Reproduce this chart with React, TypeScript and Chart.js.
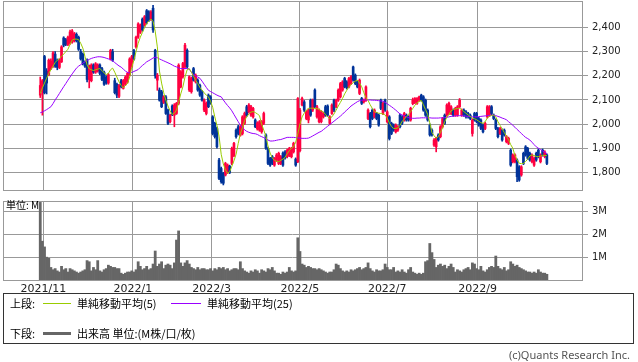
import React, { useEffect, useRef } from 'react';
import { Chart, registerables } from 'chart.js';

Chart.register(...registerables);

// ---------- data ----------
const openPrices = [
  2120,2135,2280,2220,2205,2230,2240,2290,2265,2235,
  2258,2357,2350,2330,2335,2340,2345,2372,2360,2300,
  2290,2255,2265,2185,2180,2245,2215,2220,2245,2230,
  2215,2195,2170,2270,2300,2180,2165,2115,2180,2148,
  2165,2175,2205,2240,2305,2320,2360,2380,2435,2410,
  2470,2465,2435,2480,2306,2182,2141,2134,2090,2113,
  2058,2010,2075,2037,2044,2086,2154,2196,2237,2306,
  2141,2134,2230,2175,2182,2161,2134,2058,2044,2120,
  2113,2030,2003,1982,1851,1816,1796,1789,1800,1825,
  1837,1870,1975,1989,1954,1961,2003,2072,2051,2037,
  2030,2017,1980,1975,1968,2003,1955,1899,1858,1865,
  1830,1851,1837,1837,1880,1885,1865,1870,1865,1885,
  1855,1844,1890,2079,2092,2023,2017,2099,2058,2141,
  2030,2010,2010,2030,2072,2075,2003,2044,2099,2072,
  2099,2113,2141,2189,2175,2154,2168,2237,2203,2175,
  2127,2106,2092,2099,2023,2044,2058,2030,2044,2037,
  2099,2044,2099,2010,2030,2003,1996,1968,1975,2037,
  2030,2017,2037,2030,2017,2085,2090,2086,2099,2120,
  2113,2099,2058,1996,1975,1913,1906,1955,1948,1989,
  2037,2037,2044,2044,2058,2037,2037,2072,2037,2058,
  2051,2044,2037,1961,2044,2044,2023,2017,1996,1982,
  2030,2037,2072,2037,2017,1982,1961,1975,1975,1927,
  1920,1892,1844,1844,1851,1823,1789,1879,1906,1899,
  1879,1844,1830,1879,1892,1844,1892,1865,1872,
];
const highPrices = [
  2195,2185,2285,2230,2270,2270,2300,2300,2270,2270,
  2325,2362,2355,2365,2390,2392,2380,2378,2365,2310,
  2295,2262,2270,2245,2250,2250,2255,2250,2250,2235,
  2220,2200,2210,2310,2310,2190,2170,2165,2185,2185,
  2200,2215,2275,2285,2310,2365,2420,2415,2440,2450,
  2475,2470,2470,2492,2310,2210,2150,2140,2118,2118,
  2062,2042,2080,2085,2090,2250,2222,2256,2335,2312,
  2200,2195,2235,2208,2188,2166,2140,2105,2092,2125,
  2118,2035,2008,1988,1858,1822,1800,1842,1835,1830,
  1905,1925,1980,1995,1995,2035,2050,2078,2085,2078,
  2070,2022,2010,2015,2015,2050,1960,1905,1862,1870,
  1862,1878,1884,1870,1885,1890,1897,1904,1904,1925,
  1860,2110,2065,2112,2098,2056,2063,2104,2104,2146,
  2078,2063,2056,2050,2078,2080,2035,2084,2104,2104,
  2146,2173,2180,2194,2180,2194,2201,2240,2208,2180,
  2187,2111,2104,2159,2063,2049,2063,2063,2049,2042,
  2104,2091,2104,2056,2035,2008,2001,2001,1994,2042,
  2035,2049,2042,2035,2070,2108,2110,2110,2116,2124,
  2118,2104,2063,2001,1980,1940,1946,1960,1994,2028,
  2042,2084,2091,2077,2063,2070,2077,2106,2063,2063,
  2056,2049,2042,2022,2049,2049,2028,2022,2001,2008,
  2077,2077,2077,2042,2022,1987,1987,1980,1980,1953,
  1946,1897,1877,1877,1856,1828,1828,1884,1911,1904,
  1884,1877,1863,1884,1897,1877,1897,1890,1877,
];
const lowPrices = [
  2110,2037,2125,2125,2200,2225,2235,2235,2225,2230,
  2255,2320,2325,2325,2330,2335,2340,2340,2305,2265,
  2245,2235,2175,2150,2175,2210,2210,2215,2205,2180,
  2160,2165,2165,2265,2260,2125,2110,2110,2150,2145,
  2160,2170,2200,2235,2265,2315,2355,2375,2385,2405,
  2415,2425,2430,2380,2190,2140,2095,2068,2085,2040,
  1998,2005,2035,1989,2040,2080,2150,2190,2230,2232,
  2135,2128,2178,2170,2136,2115,2095,2052,2038,2068,
  2082,1955,1942,1900,1770,1755,1748,1785,1795,1795,
  1832,1865,1942,1955,1950,1955,1998,2032,2045,2032,
  2025,1985,1975,1970,1962,1998,1895,1832,1825,1832,
  1825,1845,1832,1832,1825,1855,1860,1865,1860,1880,
  1825,1840,1885,2075,2052,2018,2005,2032,2052,2068,
  2025,2005,2005,2025,2032,2032,1998,2040,2052,2068,
  2094,2108,2136,2150,2145,2150,2163,2178,2163,2150,
  2122,2081,2087,2094,2018,1984,2018,2025,2018,1991,
  2060,2039,2053,2005,1934,1956,1970,1963,1970,1984,
  1998,2012,2012,2012,2012,2080,2085,2082,2094,2095,
  2053,2032,2012,1950,1950,1908,1885,1929,1943,1984,
  1998,2032,2039,2039,2032,2032,2032,2067,2032,2032,
  2025,2025,2018,1950,2012,2005,1991,1977,1963,1977,
  2025,2032,2039,2018,1977,1943,1956,1929,1950,1922,
  1915,1825,1839,1839,1761,1763,1784,1832,1867,1853,
  1846,1839,1825,1846,1860,1839,1867,1860,1832,
];
const closePrices = [
  2160,2180,2130,2170,2265,2262,2295,2240,2235,2262,
  2320,2327,2330,2360,2382,2386,2375,2345,2310,2270,
  2250,2240,2185,2240,2245,2215,2250,2245,2210,2185,
  2165,2170,2205,2305,2265,2130,2120,2160,2155,2180,
  2195,2210,2270,2280,2270,2360,2415,2410,2390,2445,
  2420,2430,2465,2390,2200,2203,2099,2072,2113,2044,
  2003,2037,2040,2079,2086,2244,2217,2251,2327,2237,
  2196,2189,2182,2203,2141,2120,2099,2099,2086,2072,
  2086,1961,1948,1906,1775,1761,1755,1837,1830,1800,
  1899,1920,1948,1961,1989,2030,2044,2037,2079,2072,
  2065,1989,2005,2010,2010,2044,1900,1837,1830,1837,
  1858,1872,1879,1865,1830,1860,1892,1899,1899,1920,
  1830,2106,2058,2106,2058,2051,2058,2037,2099,2072,
  2072,2058,2051,2044,2037,2037,2030,2079,2058,2099,
  2141,2168,2175,2154,2150,2189,2196,2182,2168,2154,
  2182,2086,2099,2154,2058,1989,2023,2058,2023,1996,
  2065,2086,2058,2051,1940,1961,1975,1996,1989,1989,
  2003,2044,2017,2017,2065,2100,2106,2106,2113,2099,
  2058,2037,2017,1955,1955,1934,1941,1934,1989,2023,
  2003,2079,2086,2072,2037,2065,2072,2099,2058,2037,
  2030,2030,2023,2017,2017,2010,1996,1982,1968,2003,
  2072,2072,2044,2023,1982,1948,1982,1934,1955,1948,
  1941,1830,1872,1872,1782,1768,1823,1837,1872,1858,
  1851,1872,1858,1851,1865,1872,1872,1885,1837,
];
const ma5 = [
  2127,2150,2170,2190,2210,2225,2240,2255,2265,2272,
  2280,2290,2300,2310,2330,2348,2352,2352,2350,2335,
  2315,2280,2245,2230,2225,2222,2225,2228,2230,2222,
  2212,2205,2210,2225,2232,2215,2195,2175,2160,2150,
  2160,2168,2195,2235,2265,2300,2335,2360,2380,2400,
  2416,2428,2435,2425,2385,2320,2220,2170,2130,2099,
  2075,2055,2040,2045,2058,2090,2125,2154,2195,2225,
  2230,2215,2198,2182,2168,2152,2141,2130,2120,2113,
  2095,2070,2030,1995,1950,1875,1835,1810,1796,1803,
  1825,1848,1875,1920,1960,1985,2015,2030,2042,2050,
  2052,2048,2042,2035,2000,1975,1950,1908,1880,1860,
  1850,1846,1844,1850,1855,1862,1877,1890,1900,1906,
  1925,1960,2000,2030,2045,2058,2065,2066,2066,2065,
  2065,2060,2055,2050,2040,2030,2023,2030,2042,2058,
  2075,2090,2106,2125,2140,2155,2163,2172,2178,2182,
  2170,2155,2130,2110,2098,2080,2065,2051,2048,2045,
  2044,2042,2038,2025,2005,1990,1982,1982,1984,1995,
  2012,2020,2032,2040,2052,2065,2078,2088,2095,2098,
  2080,2060,2040,2005,1965,1952,1941,1948,1966,1985,
  2010,2028,2040,2055,2060,2063,2065,2066,2060,2052,
  2045,2038,2032,2025,2022,2018,2012,2006,2003,2010,
  2025,2032,2036,2037,2030,2010,1995,1980,1965,1950,
  1935,1915,1900,1870,1852,1838,1836,1837,1845,1855,
  1868,1872,1870,1866,1865,1867,1871,1870,1869,
];
const ma25 = [
  2047,2050,2055,2060,2066,2072,2085,2100,2113,2127,
  2141,2155,2168,2182,2195,2208,2220,2232,2240,2246,
  2252,2258,2264,2268,2272,2275,2277,2279,2279,2278,
  2276,2273,2270,2268,2262,2255,2248,2241,2236,2228,
  2220,2214,2212,2214,2218,2222,2226,2235,2243,2250,
  2258,2263,2268,2274,2277,2275,2270,2266,2262,2258,
  2254,2250,2245,2240,2237,2233,2230,2230,2230,2230,
  2228,2215,2205,2200,2195,2190,2178,2165,2152,2140,
  2135,2130,2125,2120,2116,2113,2100,2088,2077,2067,
  2055,2040,2025,2010,1995,1985,1976,1970,1966,1963,
  1961,1960,1957,1952,1948,1944,1939,1934,1930,1930,
  1931,1933,1935,1936,1939,1942,1945,1945,1945,1945,
  1944,1943,1942,1941,1941,1941,1942,1946,1951,1956,
  1961,1966,1970,1977,1984,1991,1998,2005,2012,2019,
  2026,2033,2041,2050,2058,2066,2075,2081,2087,2093,
  2097,2099,2100,2100,2100,2100,2099,2099,2098,2097,
  2096,2095,2090,2084,2078,2072,2065,2058,2050,2042,
  2038,2034,2030,2027,2025,2024,2024,2025,2025,2026,
  2026,2026,2026,2026,2025,2025,2025,2025,2026,2026,
  2027,2028,2030,2032,2033,2034,2035,2035,2035,2034,
  2033,2032,2031,2030,2030,2030,2031,2032,2033,2034,
  2035,2036,2037,2037,2035,2032,2029,2025,2022,2018,
  2010,2003,1995,1987,1978,1970,1961,1953,1945,1940,
  1934,1925,1915,1906,1900,1895,1889,1884,1878,
];
const volumesM = [
  3.4,1.7,1.45,1.0,0.95,0.55,0.45,0.5,0.4,0.35,
  0.6,0.45,0.5,0.35,0.5,0.45,0.4,0.35,0.3,0.35,
  0.4,0.45,0.85,0.8,0.4,0.55,0.45,0.85,0.4,0.35,
  0.45,0.5,0.65,0.6,0.55,0.55,0.5,0.5,0.3,0.25,
  0.3,0.35,0.35,0.4,0.35,0.45,0.8,0.6,0.45,0.5,
  0.6,0.45,0.5,0.7,1.27,0.6,0.7,0.8,0.5,0.65,
  0.7,0.65,0.5,0.75,1.75,2.15,0.75,0.6,0.75,0.85,
  0.7,0.55,0.5,0.45,0.55,0.45,0.5,0.5,0.45,0.45,
  0.5,0.4,0.5,0.45,0.55,0.5,0.55,0.45,0.5,0.4,
  0.45,0.5,0.5,0.45,0.8,0.5,0.4,0.35,0.3,0.4,
  0.35,0.45,0.4,0.3,0.45,0.4,0.35,0.5,0.45,0.55,
  0.4,0.3,0.3,0.25,0.35,0.3,0.35,0.55,0.4,0.35,
  0.4,1.85,1.25,0.7,0.65,0.55,0.6,0.55,0.5,0.5,
  0.45,0.5,0.45,0.4,0.35,0.3,0.35,0.35,0.45,0.7,
  0.65,0.5,0.4,0.35,0.4,0.35,0.45,0.4,0.45,0.5,
  0.55,0.45,0.5,0.55,0.75,0.5,0.4,0.35,0.45,0.4,
  0.4,0.45,0.7,0.55,0.45,0.45,0.55,0.35,0.4,0.35,
  0.45,0.35,0.3,0.45,0.55,0.35,0.3,0.25,0.3,0.25,
  0.3,0.8,0.85,1.6,1.2,0.9,0.55,0.65,0.7,0.6,
  0.65,0.5,0.6,0.7,0.55,0.35,0.45,0.4,0.35,0.45,
  0.5,0.55,0.45,0.75,0.7,0.5,0.45,0.6,0.4,0.35,
  0.45,0.55,0.6,0.55,1.05,0.6,0.5,0.45,0.55,0.4,
  0.45,0.8,0.7,0.6,0.65,0.55,0.5,0.45,0.4,0.35,
  0.35,0.3,0.35,0.3,0.45,0.35,0.3,0.3,0.25,
];
const xTickLabels = ['2021/11', '2022/1', '2022/3', '2022/5', '2022/7', '2022/9'];
const xTickSlots = [18.5, 60.5, 97.5, 139, 180, 222.5];
const priceTicks = [1800, 1900, 2000, 2100, 2200, 2300, 2400];
const volumeTicks = [1, 2, 3];

// ---------- layout / style ----------
const TOTAL_SLOTS = 272;
const FIRST_SLOT = 17;
const UP_COLOR = '#ff0040';
const DOWN_COLOR = '#003399';
const MA5_COLOR = '#99cc00';
const MA25_COLOR = '#9900ff';
const GRID = '#999999';
const VOL_COLOR = '#666666';
const LABEL_COLOR = '#222222';
const NUM_FONT = 'DejaVu Sans';
const CJK = '"Noto Sans CJK JP", sans-serif';

const framePlugin = {
  id: 'panelFrame',
  beforeDatasetsDraw(chart: any) {
    const { ctx, chartArea: a } = chart;
    ctx.save();
    ctx.strokeStyle = GRID;
    ctx.lineWidth = 1;
    ctx.strokeRect(Math.round(a.left) + 0.5, Math.round(a.top) + 0.5, Math.round(a.right - a.left), Math.round(a.bottom - a.top));
    ctx.restore();
  },
};

const xScale = (showLabels: boolean) => ({
  type: 'linear' as const,
  min: -0.5,
  max: TOTAL_SLOTS - 0.5,
  offset: false,
  afterBuildTicks: (s: any) => {
    s.ticks = xTickSlots.map((v) => ({ value: v }));
  },
  afterFit: (s: any) => {
    s.height = showLabels ? 20 : 0;
    s.paddingLeft = 0;
    s.paddingRight = 0;
  },
  ticks: {
    display: showLabels,
    autoSkip: false,
    maxRotation: 0,
    minRotation: 0,
    padding: 3,
    color: LABEL_COLOR,
    font: { family: NUM_FONT, size: 11 },
    callback: (_v: any, i: number) => xTickLabels[i],
  },
  grid: { color: GRID, drawTicks: false, offset: false, lineWidth: 1 },
  border: { display: false },
});

export default function App() {
  const priceRef = useRef<HTMLCanvasElement | null>(null);
  const volRef = useRef<HTMLCanvasElement | null>(null);

  useEffect(() => {
    const colors = closePrices.map((c, i) => (c >= openPrices[i] ? UP_COLOR : DOWN_COLOR));
    const priceChart = new Chart(priceRef.current as HTMLCanvasElement, {
      type: 'bar',
      data: {
        datasets: [
          {
            type: 'line',
            data: ma5.map((v, i) => ({ x: FIRST_SLOT + i, y: v })),
            borderColor: MA5_COLOR,
            borderWidth: 1,
            pointRadius: 0,
            tension: 0,
            order: 0,
          } as any,
          {
            type: 'line',
            data: ma25.map((v, i) => ({ x: FIRST_SLOT + i, y: v })),
            borderColor: MA25_COLOR,
            borderWidth: 1,
            pointRadius: 0,
            tension: 0,
            order: 1,
          } as any,
          {
            type: 'bar',
            data: openPrices.map((o, i) => ({ x: FIRST_SLOT + i, y: [o, closePrices[i]] })),
            backgroundColor: colors,
            barThickness: 2,
            grouped: false,
            order: 2,
          } as any,
          {
            type: 'bar',
            data: lowPrices.map((l, i) => ({ x: FIRST_SLOT + i, y: [l, highPrices[i]] })),
            backgroundColor: colors,
            barThickness: 1,
            grouped: false,
            order: 3,
          } as any,
        ],
      },
      options: {
        responsive: false,
        animation: false,
        events: [],
        layout: { padding: { left: 3, top: 1, right: 0, bottom: 5 } },
        plugins: { legend: { display: false }, tooltip: { enabled: false } },
        scales: {
          x: xScale(false) as any,
          y: {
            type: 'linear',
            position: 'right',
            min: 1727,
            max: 2510,
            afterBuildTicks: (s: any) => {
              s.ticks = priceTicks.map((v) => ({ value: v }));
            },
            afterFit: (s: any) => {
              s.width = 56;
              s.paddingTop = 0;
              s.paddingBottom = 0;
            },
            ticks: {
              padding: 4,
              color: LABEL_COLOR,
              font: { family: NUM_FONT, size: 10 },
              callback: (v: any) => Number(v).toLocaleString('en-US'),
            },
            grid: { color: GRID, tickLength: 6, drawTicks: true },
            border: { display: false },
          } as any,
        },
      },
      plugins: [framePlugin],
    });

    const volChart = new Chart(volRef.current as HTMLCanvasElement, {
      type: 'bar',
      data: {
        datasets: [
          {
            data: volumesM.map((v, i) => ({ x: FIRST_SLOT + i, y: v })),
            backgroundColor: VOL_COLOR,
            barPercentage: 1,
            categoryPercentage: 1,
            grouped: false,
          } as any,
        ],
      },
      options: {
        responsive: false,
        animation: false,
        events: [],
        layout: { padding: { left: 3, top: 6, right: 0, bottom: 0 } },
        plugins: { legend: { display: false }, tooltip: { enabled: false } },
        scales: {
          x: xScale(true) as any,
          y: {
            type: 'linear',
            position: 'right',
            min: 0,
            max: 3.46,
            afterBuildTicks: (s: any) => {
              s.ticks = volumeTicks.map((v) => ({ value: v }));
            },
            afterFit: (s: any) => {
              s.width = 56;
              s.paddingTop = 0;
              s.paddingBottom = 0;
            },
            ticks: {
              padding: 4,
              color: LABEL_COLOR,
              font: { family: NUM_FONT, size: 10 },
              callback: (v: any) => `${v}M`,
            },
            grid: { color: GRID, tickLength: 6, drawTicks: true },
            border: { display: false },
          } as any,
        },
      },
      plugins: [framePlugin],
    });

    return () => {
      priceChart.destroy();
      volChart.destroy();
    };
  }, []);

  const txt: React.CSSProperties = {
    position: 'absolute',
    font: `11px ${CJK}`,
    lineHeight: '14px',
    color: '#000',
    whiteSpace: 'nowrap',
  };

  return (
    <div
      style={{
        position: 'fixed',
        left: 0,
        top: 0,
        width: 638,
        height: 362,
        background: '#fff',
        overflow: 'hidden',
      }}
    >
      <canvas ref={priceRef} width={638} height={195} style={{ position: 'absolute', left: 0, top: 0 }} />
      <canvas ref={volRef} width={638} height={105} style={{ position: 'absolute', left: 0, top: 195 }} />
      <div style={{ ...txt, left: 6, top: 199, font: `10px ${CJK}`, lineHeight: '12px' }}>単位: M</div>

      <div
        style={{
          position: 'absolute',
          left: 3,
          top: 293,
          width: 629,
          height: 49,
          border: '1px solid #333',
        }}
      />
      <div style={{ ...txt, left: 10, top: 296 }}>上段:</div>
      <div style={{ position: 'absolute', left: 43, top: 303, width: 28, height: 1, background: MA5_COLOR }} />
      <div style={{ ...txt, left: 77, top: 296 }}>単純移動平均(5)</div>
      <div style={{ position: 'absolute', left: 171, top: 303, width: 30, height: 1, background: MA25_COLOR }} />
      <div style={{ ...txt, left: 207, top: 296 }}>単純移動平均(25)</div>
      <div style={{ ...txt, left: 10, top: 326 }}>下段:</div>
      <div style={{ position: 'absolute', left: 43, top: 332, width: 28, height: 3, background: VOL_COLOR }} />
      <div style={{ ...txt, left: 77, top: 326 }}>出来高 単位:(M株/口/枚)</div>
      <div
        style={{
          position: 'absolute',
          right: 8,
          top: 348,
          font: '11px "Noto Sans", sans-serif',
          lineHeight: '13px',
          color: '#555',
          whiteSpace: 'nowrap',
        }}
      >
        (c)Quants Research Inc.
      </div>
    </div>
  );
}
